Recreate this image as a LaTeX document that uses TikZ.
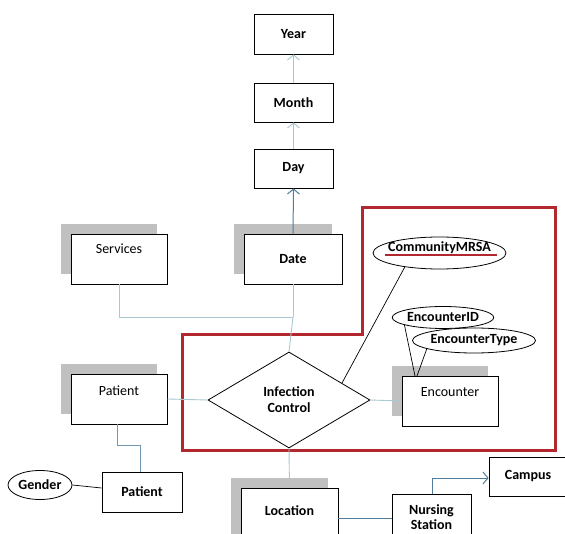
\documentclass[tikz,border=0pt]{standalone}
\usepackage{fontspec}
\setmainfont{Carlito}
\usetikzlibrary{shapes.geometric,arrows.meta,shadows}
\definecolor{lineLight}{RGB}{168,200,210}
\definecolor{lineDark}{RGB}{80,125,155}
\definecolor{shadowGray}{RGB}{192,192,192}
\definecolor{frameRed}{RGB}{178,40,46}
\newcommand{\fsz}{\fontsize{14}{16}\selectfont}
\tikzset{
  box/.style={draw=black, fill=white, line width=0.8pt, inner sep=0pt, font=\fsz},
  boldbox/.style={box, font=\fsz\bfseries},
  shbox/.style={box, drop shadow={shadow xshift=-10pt, shadow yshift=10pt, fill=shadowGray, opacity=1}},
  shboldbox/.style={boldbox, drop shadow={shadow xshift=-10pt, shadow yshift=10pt, fill=shadowGray, opacity=1}},
  attr/.style={draw=black, fill=white, ellipse, line width=0.8pt, inner sep=0pt, font=\fsz\bfseries},
  lbl/.style={inner sep=0pt, font=\fsz},
  blbl/.style={inner sep=0pt, font=\fsz\bfseries},
  light/.style={draw=lineLight, line width=0.9pt},
  dark/.style={draw=lineDark, line width=1pt},
  barb/.style={-{Straight Barb[length=5pt,width=12pt]}},
  thin/.style={draw=black, line width=0.7pt},
}
\begin{document}
\begin{tikzpicture}[x=1pt,y=-1pt]
\useasboundingbox (0,0) rectangle (565,534);
\clip (0,0) rectangle (565,534);
\fill[white] (0,0) rectangle (565,534);

% red frame
\draw[frameRed, line width=3pt] (182,335) -- (362,335) -- (362,208) -- (555,208) -- (555,450) -- (182,450) -- cycle;

% top hierarchy
\node[boldbox, minimum width=79, minimum height=40] (year) at (293.5,34) {Year};
\node[boldbox, minimum width=79, minimum height=39] (month) at (293.5,102.5) {Month};
\node[boldbox, minimum width=79, minimum height=39] (day) at (293.5,168.5) {Day};

% shadowed entities
\node[shboldbox, minimum width=98, minimum height=50] (date) at (293,259) {Date};
\node[shbox, minimum width=96, minimum height=50] (serv) at (119,259) {};
\node[lbl] (servT) at (119,249) {Services};
\node[shbox, minimum width=96, minimum height=50] (pat) at (119,399) {};
\node[lbl] (patT) at (119,391) {Patient};
\node[shbox, minimum width=96, minimum height=50] (enc) at (450,401) {};
\node[lbl] (encT) at (450,392) {Encounter};
\node[shboldbox, minimum width=97, minimum height=60] (loc) at (289.5,518) {};
\node[blbl] (locT) at (289.5,511) {Location};

% plain entities
\node[boldbox, minimum width=80, minimum height=40] (pat2) at (142,492) {Patient};
\node[boldbox, minimum width=79, minimum height=50] (ns) at (431.5,519) {};
\node[blbl, align=center] (nsT) at (431.5,517) {Nursing\\[-1pt]Station};
\node[boldbox, minimum width=78, minimum height=39] (campus) at (528,476.5) {Campus};

% relationship
\node[draw=black, fill=white, diamond, line width=0.8pt, minimum width=162, minimum height=96, inner sep=0pt, align=center, font=\fsz\bfseries] (ic) at (289,400) {Infection\\Control};

% attributes
\node[attr, minimum width=133, minimum height=32] (mrsa) at (439.5,253) {};
\node[blbl] (mrsaT) at (439.5,248) {CommunityMRSA};
\draw[frameRed, line width=2.5pt] (385,255) -- (497,255);
\node[attr, minimum width=82, minimum height=22] (eid) at (443,317.5) {EncounterID};
\node[attr, minimum width=106, minimum height=25] (etype) at (474,340.5) {EncounterType};
\node[attr, minimum width=64, minimum height=29] (gender) at (40,485) {Gender};

% connectors: hierarchy arrows
\draw[light, barb] (day.north) -- (month.south);
\draw[light, barb] (month.north) -- (year.south);
\draw[dark, barb] (date.north) -- (day.south);

% services/date to relationship
\coordinate (j1) at (293,317);
\draw[light] (serv.south) |- (j1);
\draw[light] (date.south) -- (j1);
\draw[light] (j1) -- (ic.north);

% patient, encounter, location
\draw[light] (pat.east) -- (ic.west);
\draw[light] (ic.east) -- (enc.west);
\draw[light] (ic.south) -- (loc.north);

% patient to patient
\coordinate (p1) at (117,445);
\coordinate (p2) at (140,445);
\draw[dark, draw=lineDark!80] (pat.south -| p1) -- (p1) -- (p2) -- (pat2.north -| p2);

% gender
\draw[thin] (gender.east) -- ([yshift=4pt]pat2.west);

% location to nursing station
\draw[dark] (loc.east |- 0,518) -- (ns.west |- 0,518);
\coordinate (n1) at (432,478);
\draw[dark, barb] (ns.north -| n1) -- (n1) -- (campus.west |- n1);

% attribute lines
\coordinate (ic1) at (342,383);
\coordinate (e1) at (415,376);
\coordinate (e2) at (417,376);
\draw[thin] (mrsa.202) -- (ic1);
\draw[thin] (eid.191) -- (e1);
\draw[thin] (etype.190) -- (e2);
\end{tikzpicture}
\end{document}
